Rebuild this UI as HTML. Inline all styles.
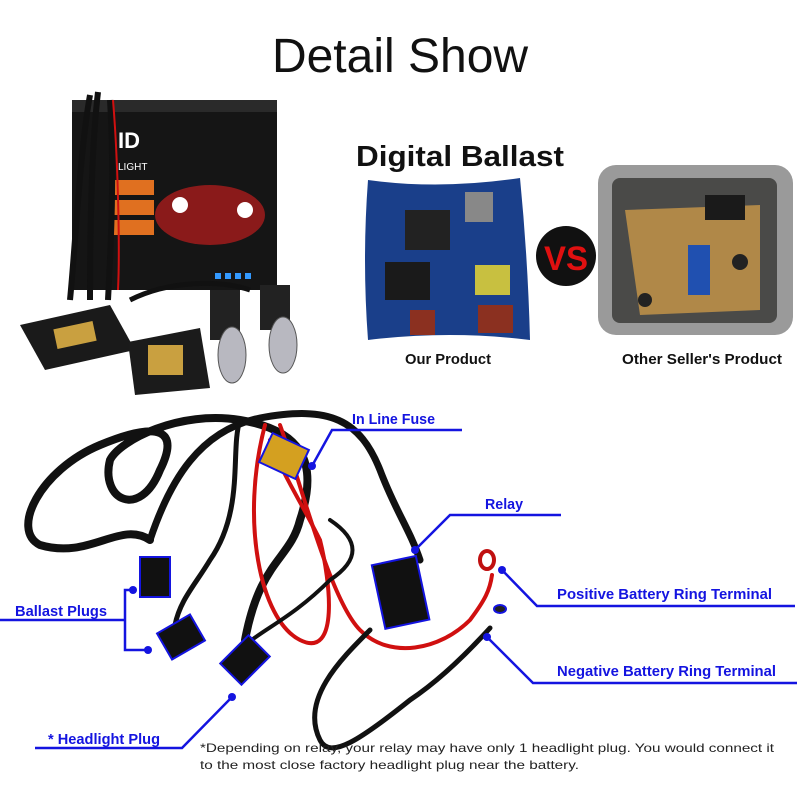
<!DOCTYPE html>
<html><head><meta charset="utf-8"><style>
html,body{margin:0;padding:0;background:#fff;}
svg{display:block;}
text{font-family:"Liberation Sans",sans-serif;}
.lb{font-weight:bold;fill:#1414e0;font-size:15px;}
.fn{font-size:12px;fill:#222;}
</style></head><body>
<svg width="800" height="800" viewBox="0 0 800 800" xmlns="http://www.w3.org/2000/svg">
<rect width="800" height="800" fill="#fff"/>
<text x="400" y="72" text-anchor="middle" font-size="48" fill="#111">Detail Show</text>

<!-- kit box -->
<rect x="72" y="100" width="205" height="190" fill="#151515"/>
<rect x="72" y="100" width="205" height="12" fill="#2a2a2a"/>
<text x="118" y="148" font-weight="bold" font-size="22" fill="#fff">ID</text>
<text x="118" y="170" font-size="10" fill="#fff">LIGHT</text>
<rect x="112" y="180" width="42" height="15" fill="#e07020"/>
<rect x="112" y="200" width="42" height="15" fill="#e07020"/>
<rect x="112" y="220" width="42" height="15" fill="#e07020"/>
<ellipse cx="210" cy="215" rx="55" ry="30" fill="#8a1a1a"/>
<circle cx="180" cy="205" r="8" fill="#fff"/><circle cx="245" cy="210" r="8" fill="#fff"/>
<g fill="#3399ff"><rect x="215" y="273" width="6" height="6"/><rect x="225" y="273" width="6" height="6"/><rect x="235" y="273" width="6" height="6"/><rect x="245" y="273" width="6" height="6"/></g>
<path d="M90 95 C80 150 75 250 70 300 M98 92 C90 160 90 260 90 300 M110 100 C115 180 110 260 108 300" stroke="#111" stroke-width="6" fill="none"/>
<path d="M113 100 C118 160 120 250 118 290" stroke="#d01010" stroke-width="2" fill="none"/>
<!-- ballasts -->
<path d="M20 325 L110 305 L135 350 L45 370 Z" fill="#1a1a1a"/>
<rect x="55" y="325" width="40" height="20" fill="#c9a040" transform="rotate(-12 75 335)"/>
<path d="M128 342 L200 328 L210 388 L135 395 Z" fill="#1b1b1b"/>
<rect x="148" y="345" width="35" height="30" fill="#c9a040"/>
<path d="M130 300 C170 280 220 280 250 290" stroke="#111" stroke-width="5" fill="none"/>
<!-- bulbs -->
<rect x="210" y="290" width="30" height="50" fill="#222"/>
<rect x="260" y="285" width="30" height="45" fill="#222"/>
<ellipse cx="232" cy="355" rx="14" ry="28" fill="#b8b8c0" stroke="#555"/>
<ellipse cx="283" cy="345" rx="14" ry="28" fill="#b8b8c0" stroke="#555"/>

<!-- PCB -->
<text x="356" y="166" font-weight="bold" font-size="29" fill="#111" textLength="208" lengthAdjust="spacingAndGlyphs">Digital Ballast</text>
<path d="M368 180 Q440 190 520 178 Q528 260 530 340 Q450 330 368 340 Q362 260 368 180 Z" fill="#1a3f8a"/>
<rect x="385" y="262" width="45" height="38" fill="#1a1a1a"/>
<rect x="405" y="210" width="45" height="40" fill="#222"/>
<rect x="475" y="265" width="35" height="30" fill="#c8c040"/>
<rect x="478" y="305" width="35" height="28" fill="#8b3020"/>
<rect x="410" y="310" width="25" height="25" fill="#8b3020"/>
<rect x="465" y="192" width="28" height="30" fill="#888"/>
<circle cx="566" cy="256" r="30" fill="#111"/>
<text x="566" y="270" text-anchor="middle" font-weight="bold" font-size="34" fill="#e01010" textLength="44" lengthAdjust="spacingAndGlyphs">VS</text>
<!-- other box -->
<rect x="598" y="165" width="195" height="170" rx="18" fill="#9a9a9a"/>
<rect x="612" y="178" width="165" height="145" rx="8" fill="#4a4a48"/>
<path d="M625 210 L760 205 L760 310 L640 315 Z" fill="#b08848"/>
<rect x="688" y="245" width="22" height="50" fill="#2050b0"/>
<rect x="705" y="195" width="40" height="25" fill="#1a1a1a"/>
<circle cx="645" cy="300" r="7" fill="#222"/><circle cx="740" cy="262" r="8" fill="#222"/>
<text x="405" y="364" font-weight="bold" font-size="15" fill="#111" textLength="86" lengthAdjust="spacingAndGlyphs">Our Product</text>
<text x="622" y="364" font-weight="bold" font-size="15" fill="#111" textLength="160" lengthAdjust="spacingAndGlyphs">Other Seller's Product</text>

<!-- harness -->
<g fill="none" stroke-linecap="round">
<path d="M150 540 C120 520 90 560 40 545 C10 530 40 470 100 445 C160 420 180 430 160 470 C140 520 100 500 110 460 C120 440 180 410 240 420 C300 430 320 460 300 520 C290 560 260 560 245 640" stroke="#111" stroke-width="8"/>
<path d="M150 540 C170 480 200 430 260 418 C330 405 360 420 380 470 C395 510 410 530 420 560" stroke="#111" stroke-width="7"/>
<path d="M240 420 C230 450 245 510 210 560 C195 585 180 600 175 625" stroke="#111" stroke-width="5"/>
<path d="M265 425 C240 520 260 620 300 640 C340 660 330 580 320 540 C300 500 280 470 270 440" stroke="#d01010" stroke-width="4"/>
<path d="M280 425 C300 480 330 600 360 630 C390 660 440 650 470 620 C485 600 490 590 492 575" stroke="#d01010" stroke-width="4"/>
<path d="M330 520 C360 540 360 560 330 580 C290 620 260 630 240 650" stroke="#111" stroke-width="4"/>
<path d="M370 630 C340 660 300 700 320 740 C330 760 360 740 410 700 C440 680 470 650 490 628" stroke="#111" stroke-width="5"/>
</g>
<rect x="264" y="440" width="40" height="32" fill="#d4a020" stroke="#1414e0" stroke-width="2" transform="rotate(25 284 456)"/>
<rect x="140" y="557" width="30" height="40" fill="#111" stroke="#1414e0" stroke-width="2"/>
<rect x="162" y="622" width="38" height="30" fill="#111" stroke="#1414e0" stroke-width="2" transform="rotate(-30 181 637)"/>
<rect x="225" y="645" width="40" height="30" fill="#111" stroke="#1414e0" stroke-width="2" transform="rotate(-45 245 660)"/>
<rect x="378" y="560" width="45" height="65" fill="#111" stroke="#1414e0" stroke-width="2" transform="rotate(-12 400 592)"/>
<ellipse cx="487" cy="560" rx="7" ry="9" fill="none" stroke="#c01010" stroke-width="4"/>
<ellipse cx="500" cy="609" rx="6" ry="4" fill="#222" stroke="#1414e0" stroke-width="2"/>

<g stroke="#1414e0" stroke-width="2.5" fill="none">
<path d="M312 466 L332 430 L462 430"/>
<path d="M415 550 L450 515 L561 515"/>
<path d="M502 570 L537 606 L795 606"/>
<path d="M487 637 L533 683 L797 683"/>
<path d="M0 620 L125 620 M133 590 L125 590 L125 650 L148 650"/>
<path d="M232 697 L182 748 L35 748"/>
</g>
<g fill="#1414e0">
<circle cx="312" cy="466" r="4"/><circle cx="415" cy="550" r="4"/>
<circle cx="502" cy="570" r="4"/><circle cx="487" cy="637" r="4"/>
<circle cx="133" cy="590" r="4"/><circle cx="148" cy="650" r="4"/><circle cx="232" cy="697" r="4"/>
</g>
<text class="lb" x="352" y="424" textLength="83" lengthAdjust="spacingAndGlyphs">In Line Fuse</text>
<text class="lb" x="485" y="509" textLength="38" lengthAdjust="spacingAndGlyphs">Relay</text>
<text class="lb" x="557" y="599" textLength="215" lengthAdjust="spacingAndGlyphs">Positive Battery Ring Terminal</text>
<text class="lb" x="557" y="676" textLength="219" lengthAdjust="spacingAndGlyphs">Negative Battery Ring Terminal</text>
<text class="lb" x="15" y="616" textLength="92" lengthAdjust="spacingAndGlyphs">Ballast Plugs</text>
<text class="lb" x="48" y="744" textLength="112" lengthAdjust="spacingAndGlyphs">* Headlight Plug</text>
<text class="fn" x="200" y="752" textLength="574" lengthAdjust="spacingAndGlyphs">*Depending on relay, your relay may have only 1 headlight plug. You would connect it</text>
<text class="fn" x="200" y="769" textLength="379" lengthAdjust="spacingAndGlyphs">to the most close factory headlight plug near the battery.</text>
</svg>
</body></html>
